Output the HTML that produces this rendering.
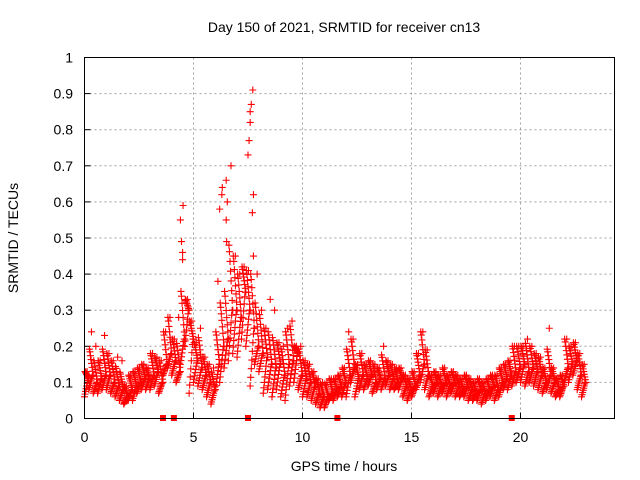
<!DOCTYPE html>
<html><head><meta charset="utf-8"><style>
body{margin:0;background:#fff}
svg{display:block;font-family:"Liberation Sans",sans-serif}
</style></head><body>
<svg id="c" width="640" height="480" viewBox="0 0 640 480">
<rect width="640" height="480" fill="#fff"/>
<text x="344" y="32" font-size="14" text-anchor="middle">Day 150 of 2021, SRMTID for receiver cn13</text>
<text x="344" y="471" font-size="14" text-anchor="middle">GPS time / hours</text>
<text transform="translate(18,238) rotate(-90)" font-size="14" text-anchor="middle">SRMTID / TECUs</text>
<g id="grid"></g><g id="pts"></g>
<rect x="84.5" y="57.5" width="530" height="361" fill="none" stroke="#000"/>
</svg>
<script>
const xTicks=[0,5,10,15,20];
const yTicks=[0,0.1,0.2,0.3,0.4,0.5,0.6,0.7,0.8,0.9,1];
const slotStart=0, slotStep=0.2;
const midVals=[.11,.12,.10,.11,.12,.12,.10,.09,.08,.06,.08,.09,.10,.11,.11,.12,.13,.10,.15,.18,.16,.13,.22,.30,.22,.16,.14,.12,.10,.08,.15,.20,.22,.30,.30,.28,.35,.30,.25,.20,.18,.17,.15,.14,.15,.12,.15,.16,.18,.12,.11,.10,.09,.07,.06,.06,.07,.08,.09,.10,.12,.14,.11,.12,.11,.12,.10,.11,.11,.12,.11,.10,.11,.09,.08,.09,.12,.15,.12,.09,.10,.09,.10,.09,.10,.09,.08,.09,.08,.07,.08,.07,.08,.09,.08,.10,.11,.12,.13,.14,.15,.13,.14,.13,.12,.10,.12,.10,.08,.09,.14,.15,.16,.12,.10];
const loVals=[.06,.08,.07,.07,.08,.08,.07,.06,.05,.04,.05,.05,.07,.08,.08,.08,.09,.07,.12,.14,.12,.10,.15,.20,.07,.10,.09,.08,.06,.04,.08,.10,.14,.16,.18,.17,.22,.20,.09,.15,.13,.07,.08,.06,.08,.06,.05,.09,.10,.08,.06,.06,.05,.04,.03,.03,.05,.05,.06,.06,.06,.10,.06,.08,.08,.09,.07,.08,.08,.09,.08,.08,.08,.06,.05,.06,.08,.10,.08,.06,.07,.06,.07,.06,.07,.06,.06,.06,.05,.05,.05,.04,.05,.06,.05,.06,.08,.08,.09,.10,.10,.09,.10,.09,.08,.07,.08,.07,.06,.06,.10,.10,.12,.08,.06];
const hiVals=[.13,.24,.20,.16,.23,.18,.16,.17,.16,.09,.12,.13,.14,.15,.14,.18,.17,.16,.24,.28,.22,.28,.59,.33,.27,.21,.25,.17,.15,.14,.38,.64,.49,.70,.45,.40,.42,.41,.91,.40,.30,.25,.33,.30,.21,.20,.25,.27,.20,.20,.16,.15,.13,.11,.10,.10,.11,.11,.12,.14,.24,.22,.15,.18,.15,.16,.15,.14,.20,.16,.15,.14,.14,.12,.11,.13,.18,.24,.19,.12,.13,.12,.14,.12,.13,.12,.11,.12,.11,.10,.11,.10,.11,.12,.12,.14,.15,.16,.20,.20,.20,.22,.20,.18,.17,.14,.25,.14,.11,.12,.22,.20,.21,.18,.15];
const spikeTimes=[4.4,4.45,4.5,4.5,6.2,6.3,6.5,6.55,6.5,7.5,7.55,7.6,7.6,7.65,7.7,7.75,7.75];
const spikeVals=[0.55,0.49,0.46,0.44,0.58,0.62,0.66,0.60,0.55,0.73,0.77,0.82,0.85,0.87,0.57,0.62,0.45];
const markerTimes=[3.6,4.1,7.5,11.6,19.6];
const X=v=>84.5+v*21.8, Y=v=>418.5-v*361;
const NS="http://www.w3.org/2000/svg";
const g=document.getElementById('grid'), p=document.getElementById('pts');
function mk(tag,at,par){const e=document.createElementNS(NS,tag);for(const k in at)e.setAttribute(k,at[k]);par.appendChild(e);return e;}
xTicks.forEach(t=>{
 if(t>0){const l=mk('line',{x1:X(t),x2:X(t),y1:57.5,y2:418.5,stroke:'#a0a0a0','stroke-dasharray':'2,3'},g);
 
 }
 const tk=mk('line',{x1:X(t),x2:X(t),y1:418.5,y2:412.5,stroke:'#000'},g);
 
 
 const tx=mk('text',{x:X(t),y:442,'font-size':14,'text-anchor':'middle'},g);tx.textContent=t;
 
 
});
yTicks.forEach(t=>{
 if(t>0&&t<1){const l=mk('line',{x1:84.5,x2:614.5,y1:Y(t),y2:Y(t),stroke:'#a0a0a0','stroke-dasharray':'2,3'},g);
 
 }
 const tk=mk('line',{x1:84.5,x2:90.5,y1:Y(t),y2:Y(t),stroke:'#000'},g);
 
 
 const tx=mk('text',{x:73,y:Y(t)+5,'font-size':14,'text-anchor':'end'},g);tx.textContent=String(t);
 
 
});
function plus(t,v,col){
 const x=X(t),y=Y(v);
 const e=mk('path',{d:`M${x-3.5},${y}h7M${x},${y-3.5}v7`,stroke:col,'stroke-width':1.1,fill:'none'},p);
 
 
}
const fr=[0,0.15,0.3,0.45,0.6,0.75,0.9,1.0];
midVals.forEach((m,i)=>{
 const t=slotStart+i*slotStep, lo=loVals[i], hi=hiVals[i];
 plus(t+0.12,hi,'#f00');
 fr.forEach((f,k)=>{
   plus(t+k*0.025,lo+(m-lo)*f,'#f00');
   plus(t+0.2-k*0.025,m+(Math.min(hi,m*1.6)-m)*f,'#f00');
 });
});
spikeTimes.forEach((t,i)=>plus(t,spikeVals[i],'#f00'));
markerTimes.forEach(t=>{
 const r=mk('rect',{x:X(t)-3,y:415,width:6,height:6,fill:'#f00'},p);
 
 
});
</script>
</body></html>
